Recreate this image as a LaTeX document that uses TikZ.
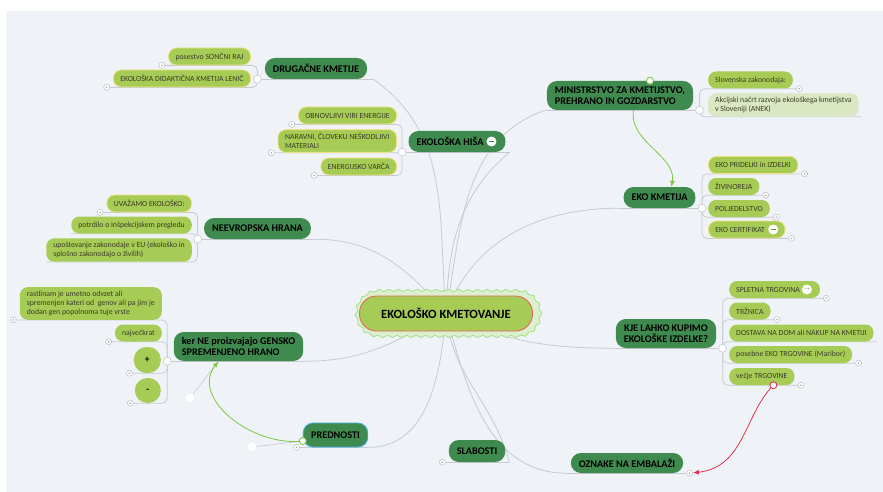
\documentclass[tikz,border=0pt]{standalone}
\usepackage{fontspec}
\setmainfont{Carlito}
\usetikzlibrary{arrows.meta,positioning,backgrounds,shapes.misc,decorations.pathmorphing}

\definecolor{panel}{HTML}{EFF3F7}
\definecolor{topicgreen}{HTML}{3E8A4F}
\definecolor{leafgreen}{HTML}{A6CC56}
\definecolor{leafpale}{HTML}{D9E7C3}
\definecolor{leafrim}{HTML}{EFE08A}
\definecolor{leafink}{HTML}{3C3C26}
\definecolor{linkgray}{HTML}{C6CBD1}
\definecolor{cloudfill}{HTML}{DAF0CE}
\definecolor{cloudrim}{HTML}{A2DC84}
\definecolor{rootrim}{HTML}{E5675F}
\definecolor{relgreen}{HTML}{7DC646}
\definecolor{relred}{HTML}{D93450}
\definecolor{selblue}{HTML}{3FAEEA}

\begin{document}
\begin{tikzpicture}[x=1pt, y=1pt,
  root/.style   = {fill=leafgreen, draw=rootrim, line width=0.9pt, rounded corners=17pt,
                   minimum width=173pt, minimum height=35pt, inner xsep=21pt,
                   font=\fontsize{12.6}{14}\selectfont\bfseries},
  wave/.style   = {rounded rectangle, fill=cloudfill, draw=cloudrim, line width=0.7pt,
                   decorate, decoration={snake, amplitude=1.2pt, segment length=9.5pt},
                   minimum width=191pt, minimum height=46pt},
  topic/.style  = {fill=topicgreen, rounded corners=10pt, minimum height=21pt,
                   inner xsep=8pt, inner ysep=3pt, align=left, text=black,
                   font=\fontsize{10.2}{11.4}\selectfont\bfseries},
  leaf/.style   = {fill=leafgreen, rounded corners=8pt, minimum height=17pt,
                   inner xsep=7pt, inner ysep=3.5pt, align=left, text=leafink,
                   font=\fontsize{7.8}{9.4}\selectfont},
  rim/.style    = {draw=leafrim, line width=0.8pt},
  pale/.style   = {fill=leafpale},
  sign/.style   = {leaf, rounded corners=12.5pt, minimum width=27pt, minimum height=26pt,
                   inner xsep=0pt, text=black, font=\fontsize{9.5}{10}\selectfont\bfseries},
                   % the + and - leaves are round
  stub/.style   = {circle, draw=linkgray!80!gray, fill=white, line width=0.5pt,
                   minimum size=6pt, inner sep=0pt,
                   path picture={\fill[gray!70] (path picture bounding box.center) circle (0.9pt);}},
  joint/.style  = {circle, draw=linkgray, fill=white, line width=0.6pt,
                   minimum size=8pt, inner sep=0pt},
  handle/.style = {circle, draw=linkgray!40, fill=white, line width=0.3pt,
                   minimum size=10pt, inner sep=0pt},
  grip/.style   = {circle, fill=white, line width=0.9pt, minimum size=7pt, inner sep=0pt},
  badge/.style  = {circle, fill=white, minimum size=10pt, inner sep=0pt},
  link/.style   = {draw=linkgray, line width=0.8pt},
  fork/.style   = {link, rounded corners=5pt},
  rel/.style    = {line width=0.8pt, -{Latex[length=6pt,width=5pt]}},
  tether/.style = {draw=linkgray, line width=0.6pt},
]
  \useasboundingbox (0,0) rectangle (883,-492);

  % centre
  \node[wave] (cloud) at (446,-313.5) {};
  \node[root] (rt) at (446,-313.5) {EKOLOŠKO KMETOVANJE};

  % DRUGAČNE KMETIJE
  \node[topic] (dk) at (316,-68.5) {DRUGAČNE KMETIJE};
  \node[joint, left=3pt of dk.south west] (dkj) {};
  \coordinate[right=6pt of dk.south east] (dke);
  \node[leaf, rim, anchor=east] (dk1) at (251,-56.5) {posestvo SONČNI RAJ};
  \node[leaf, rim, anchor=east] (dk2) at (251,-78.5) {EKOLOŠKA DIDAKTIČNA KMETIJA LENIČ};
  \node[stub, left=3pt of dk1.south west] (dk1s) {};
  \node[stub, left=3pt of dk2.south west] (dk2s) {};

  % EKOLOŠKA HIŠA
  \node[topic] (eh) at (457,-141.5) {EKOLOŠKA HIŠA\hspace{14pt}};
  \node[badge, left=9pt of eh.east] (ehb) {\textcolor{topicgreen}{\rule{5pt}{1.3pt}}};
  \node[joint, left=2pt of eh.south west] (ehj) {};
  \coordinate[right=4pt of eh.south east] (ehe);
  \node[leaf, rim, anchor=east] (eh1) at (397,-115.5) {OBNOVLJIVI VIRI ENERGIJE};
  \node[leaf, rim, anchor=east] (eh2) at (397,-141) {NARAVNI, ČLOVEKU NEŠKODLJIVI\\MATERIALI};
  \node[leaf, rim, anchor=east] (eh3) at (397,-166.5) {ENERGIJSKO VARČA};
  \node[stub, left=3pt of eh1.south west] (eh1s) {};
  \node[stub, left=3pt of eh2.south west] (eh2s) {};
  \node[stub, left=3pt of eh3.south west] (eh3s) {};

  % MINISTRSTVO
  \node[topic, minimum height=29pt] (mi) at (620,-95.5) {MINISTRSTVO ZA KMETIJSTVO,\\PREHRANO IN GOZDARSTVO};
  \node[joint, right=2pt of mi.south east] (mij) {};
  \coordinate[left=2pt of mi.south west] (mie);
  \node[leaf, anchor=west] (mi1) at (708,-80) {Slovenska zakonodaja:};
  \node[leaf, pale, anchor=west] (mi2) at (708,-105) {Akcijski načrt razvoja ekološkega kmetijstva\\v Sloveniji (ANEK)};
  \node[stub, right=3pt of mi1.south east] (mi1s) {};
  \coordinate[right=2pt of mi2.south east] (mi2e);

  % EKO KMETIJA
  \node[topic] (ek) at (659.5,-197.5) {EKO KMETIJA};
  \node[joint, right=2pt of ek.south east] (ekj) {};
  \coordinate[left=4pt of ek.south west] (eke);
  \node[leaf, rim, anchor=west] (ek1) at (708,-165) {EKO PRIDELKI in IZDELKI};
  \node[leaf, anchor=west] (ek2) at (708,-186.5) {ŽIVINOREJA};
  \node[leaf, anchor=west] (ek3) at (708,-208.5) {POLJEDELSTVO};
  \node[leaf, rim, anchor=west] (ek4) at (708,-229.5) {EKO CERTIFIKAT\hspace{13pt}};
  \node[badge, left=7pt of ek4.east] (ekb) {\textcolor{leafgreen!70!black}{\rule{5pt}{1.3pt}}};
  \node[stub, right=3pt of ek1.south east] (ek1s) {};
  \node[stub, right=3pt of ek2.south east] (ek2s) {};
  \node[stub, right=3pt of ek3.south east] (ek3s) {};
  \node[stub, right=3pt of ek4.south east] (ek4s) {};

  % KJE LAHKO KUPIMO
  \node[topic, minimum height=29pt, align=center] (kj) at (666,-333.5) {KJE LAHKO KUPIMO\\EKOLOŠKE IZDELKE?};
  \node[joint, right=2pt of kj.south east] (kjj) {};
  \coordinate[left=2pt of kj.south west] (kje);
  \node[leaf, anchor=west] (kj1) at (729,-289.5) {SPLETNA TRGOVINA\hspace{13pt}};
  \node[badge, left=8pt of kj1.east] (kjb) {\textcolor{gray}{$\scriptscriptstyle\rightarrow$}};
  \node[leaf, anchor=west] (kj2) at (729,-311) {TRŽNICA};
  \node[leaf, anchor=west] (kj3) at (729,-333) {DOSTAVA NA DOM ali NAKUP NA KMETIJI};
  \node[leaf, anchor=west] (kj4) at (729,-354.5) {posebne EKO TRGOVINE (Maribor)};
  \node[leaf, anchor=west] (kj5) at (729,-376.5) {večje TRGOVINE};
  \node[stub, right=3pt of kj1.south east] (kj1s) {};
  \node[stub, right=3pt of kj2.south east] (kj2s) {};
  \coordinate[right=3pt of kj3.south east] (kj3e);
  \node[stub, right=3pt of kj4.south east] (kj4s) {};
  \node[stub, right=3pt of kj5.south east] (kj5s) {};

  % OZNAKE, SLABOSTI, PREDNOSTI
  \node[topic, minimum height=20pt] (oz) at (627,-463) {OZNAKE NA EMBALAŽI};
  \node[stub, right=3pt of oz.south east] (ozs) {};
  \coordinate[left=4pt of oz.south west] (oze);
  \node[topic, minimum height=22pt] (sl) at (477,-451) {SLABOSTI};
  \node[stub, left=3pt of sl.south west] (sls) {};
  \coordinate[right=4pt of sl.south east] (sle);
  \node[topic, minimum height=24pt, draw=selblue, line width=0.8pt] (pr) at (335.5,-435) {PREDNOSTI};
  \node[stub, left=3pt of pr.south west] (prs) {};
  \coordinate (pre) at (pr.south east);

  % NEEVROPSKA HRANA
  \node[topic] (ne) at (257.5,-228.5) {NEEVROPSKA HRANA};
  \node[joint, left=2pt of ne.south west] (nej) {};
  \coordinate[right=4pt of ne.south east] (nee);
  \node[leaf, rim, anchor=east] (ne1) at (192,-203.5) {UVAŽAMO EKOLOŠKO:};
  \node[leaf, anchor=east] (ne2) at (192,-225) {potrdilo o inšpekcijskem pregledu};
  \node[leaf, anchor=east] (ne3) at (192,-250) {upoštevanje zakonodaje v EU (ekološko in\\splošno zakonodajo o živilih)};
  \node[stub, left=3pt of ne1.south west] (ne1s) {};
  \coordinate (ne2e) at (ne2.south west);
  \coordinate (ne3e) at (ne3.south west);

  % ker NE proizvajajo GENSKO SPREMENJENO HRANO
  \node[topic, minimum height=29pt] (gs) at (238.5,-346.5) {ker NE proizvajajo GENSKO\\SPREMENJENO HRANO};
  \node[joint, left=2pt of gs.south west] (gsj) {};
  \coordinate[right=2pt of gs.south east] (gse);
  \node[leaf, anchor=east] (gs1) at (162,-303.5) {rastlinam je umetno odvzet ali\\spremenjen kateri od\ \ genov ali pa jim je\\dodan gen popolnoma tuje vrste};
  \node[leaf, anchor=east] (gs2) at (162,-333) {največkrat};
  \node[sign, anchor=east] (gs3) at (161,-360) {+};
  \node[sign, anchor=east, minimum width=26pt, minimum height=25pt] (gs4) at (161,-390.5) {-};
  \node[stub, left=3pt of gs1.south west] (gs1s) {};
  \node[stub, left=3pt of gs2.south west] (gs2s) {};
  \node[stub, left=1pt of gs3.south west] (gs3s) {};
  \node[stub, left=1pt of gs4.south west] (gs4s) {};

  % relationships: end grips and bezier handles
  \node[grip, draw=relgreen] (mih) at ([xshift=30pt]mi.north) {};
  \coordinate (eka) at ([xshift=12pt]ek.north);
  \node[grip, draw=relgreen] (prh) at ([yshift=-6pt]pr.west) {};
  \node[handle] (prc1) at (252,-447) {};
  \node[handle] (prc2) at (190,-398) {};
  \coordinate (gsa) at ([xshift=-20pt]gs.south);
  \node[grip, draw=relred] (kjh) at ([xshift=11.5pt]kj5.south) {};

  \begin{pgfonlayer}{background}
    \fill[panel] (6,-11) rectangle (883,-492);

    % branches from the centre
    \draw[link] (rt.center) to[out=95,in=-35] (dke);
    \draw[link] (rt.center) to[out=88,in=-140] (ehe);
    \draw[link] (rt.center) to[out=80,in=-160] (mie);
    \draw[link] (rt.center) to[out=70,in=180] (eke);
    \draw[link] (rt.center) to[out=-25,in=180] (kje);
    \draw[link] (rt.center) to[out=-75,in=180] (oze);
    \draw[link] (rt.center) to[out=-85,in=105] (sle);
    \draw[link] (rt.center) to[out=-95,in=0] (pre);
    \draw[link] (rt.center) to[out=-150,in=0] (gse);
    \draw[link] (rt.center) to[out=130,in=0] (nee);

    % underlines of the topics
    \draw[link] (dkj) -- (dke);
    \draw[link] (ehj) -- (ehe);
    \draw[link] (mie) -- (mij);
    \draw[link] (eke) -- (ekj);
    \draw[link] (kje) -- (kjj);
    \draw[link] (oze) -- (ozs);
    \draw[link] (sls) -- (sle);
    \draw[link] (prs) -- (pre);
    \draw[link] (nej) -- (nee);
    \draw[link] (gsj) -- (gse);

    % leaves
    \draw[fork] (dkj.center) |- (dk1s);
    \draw[fork] (dkj.center) |- (dk2s);
    \draw[fork] (ehj.center) |- (eh1s);
    \draw[fork] (ehj.center) |- (eh2s);
    \draw[fork] (ehj.center) |- (eh3s);
    \draw[fork] (mij.center) |- (mi1s);
    \draw[fork] (mij.center) |- (mi2e);
    \draw[fork] (ekj.center) |- (ek1s);
    \draw[fork] (ekj.center) |- (ek2s);
    \draw[fork] (ekj.center) |- (ek3s);
    \draw[fork] (ekj.center) |- (ek4s);
    \draw[fork] (kjj.center) |- (kj1s);
    \draw[fork] (kjj.center) |- (kj2s);
    \draw[fork] (kjj.center) |- (kj3e);
    \draw[fork] (kjj.center) |- (kj4s);
    \draw[fork] (kjj.center) |- (kj5s);
    \draw[fork] (nej.center) |- (ne1s);
    \draw[fork] (nej.center) |- (ne2e);
    \draw[fork] (nej.center) |- (ne3e);
    \draw[fork] (gsj.center) |- (gs1s);
    \draw[fork] (gsj.center) |- (gs2s);
    \draw[fork] (gsj.center) |- (gs3s);
    \draw[fork] (gsj.center) |- (gs4s);

    % relationships
    \draw[rel, relgreen] (mih.center) .. controls +(-50,-55) and +(6,38) .. (eka);
    \draw[tether] (prc1) -- (prh);
    \draw[tether] (prc2) -- (gsa);
    \draw[rel, relgreen] (prh.center) .. controls (prc1.center) and (prc2.center) .. (gsa);
    \draw[rel, relred] (kjh.center) .. controls +(-29,-29) and +(55,6) .. (ozs);
  \end{pgfonlayer}
\end{tikzpicture}
\end{document}
